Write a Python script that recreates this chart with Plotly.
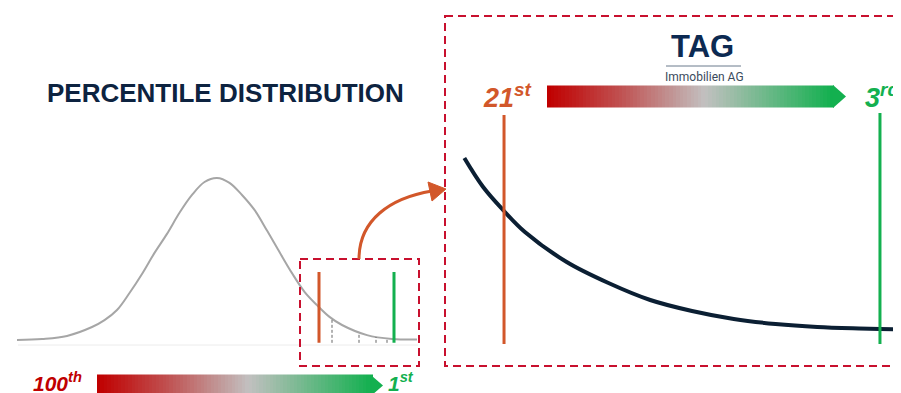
import plotly.graph_objects as go

W, H = 901, 393
OFF = 8  # the page body has an 8px margin; the canvas axis is shifted to make up for it

# bell curve (z-score, density)
BELL_Z = [-4.0, -3.5, -3.0, -2.5, -2.25, -2.0, -1.75, -1.5, -1.25, -1.0, -0.75, -0.5, -0.25, 0.0,
          0.25, 0.5, 0.75, 1.0, 1.25, 1.5, 1.75, 2.0, 2.25, 2.5, 3.0, 3.5, 4.0]
BELL_D = [0.0, 0.0025, 0.01, 0.032, 0.049, 0.074, 0.116, 0.163, 0.215, 0.262, 0.314, 0.358, 0.39, 0.40,
          0.388, 0.358, 0.321, 0.27, 0.217, 0.165, 0.119, 0.086, 0.057, 0.037, 0.012, 0.0025, 0.001]

# percentile markers on the bell curve (21st and 3rd) and the small dashed ticks
MARK_Z = [2.04, 3.54]
TICK_Z = [2.3, 2.84, 3.18, 3.4]
TICK_D = [0.052, 0.017, 0.0074, 0.0025]

# zoomed tail: percentile rank vs height
TAIL_P = [22.9, 22, 21, 20, 18, 16, 14, 12, 10, 8, 6, 4, 3, 2.3]
TAIL_H = [18.2, 15.3, 12.9, 10.8, 7.8, 5.7, 4.0, 2.9, 2.1, 1.6, 1.3, 1.15, 1.1, 1.07]
MARK_P = [21, 3]

RED = "#c00000"
ORANGE = "#d2572a"
GREEN = "#13b04f"
NAVY = "#0d2340"
BOXRED = "#c8102e"
GRAD = [[0, "#c00000"], [0.25, "#c05050"], [0.55, "#c2c0c0"], [1, "#12b04f"]]


def gradient_bar(x0, x1, y0, y1, n=80):
    step = (x1 - x0) / n
    return go.Heatmap(
        x=[x0 + step * (i + 0.5) for i in range(n)],
        y=[y0, y1],
        z=[list(range(n)), list(range(n))],
        colorscale=GRAD,
        showscale=False,
        hoverinfo="skip",
        xaxis="x",
        yaxis="y",
    )


fig = go.Figure()

# gradient arrows (canvas axis)
fig.add_trace(gradient_bar(97, 373, 380, 391))
fig.add_trace(gradient_bar(547, 834, 91, 102))

# bell curve
fig.add_trace(go.Scatter(
    x=BELL_Z, y=BELL_D, mode="lines", line=dict(color="#a6a6a6", width=2, shape="spline"),
    xaxis="x2", yaxis="y2", hoverinfo="skip",
))

# zoomed tail curve
fig.add_trace(go.Scatter(
    x=TAIL_P, y=TAIL_H, mode="lines", line=dict(color="#0b1f33", width=4, shape="spline"),
    xaxis="x3", yaxis="y3", hoverinfo="skip",
))

shapes = []
# faint baseline under the bell
shapes.append(dict(type="line", xref="x", yref="y", x0=18, x1=418, y0=345, y1=345,
                   line=dict(color="#ececec", width=1)))
# dashed ticks under the tail
for z, d in zip(TICK_Z, TICK_D):
    shapes.append(dict(type="line", xref="x2", yref="y2", x0=z, x1=z, y0=-0.007, y1=d,
                       line=dict(color="#666666", width=1, dash="3px,2px")))
# percentile markers on the bell
for z, c in zip(MARK_Z, [ORANGE, GREEN]):
    shapes.append(dict(type="line", xref="x2", yref="y2", x0=z, x1=z, y0=-0.007, y1=0.168,
                       line=dict(color=c, width=3)))
# percentile markers in the zoom
for p, c, top in zip(MARK_P, [ORANGE, GREEN], [22.5, 22.7]):
    shapes.append(dict(type="line", xref="x3", yref="y3", x0=p, x1=p, y0=-0.4, y1=top,
                       line=dict(color=c, width=3)))
# dashed boxes
shapes.append(dict(type="rect", xref="x", yref="y", x0=300, x1=419, y0=259, y1=366,
                   line=dict(color=BOXRED, width=2, dash="8px,5px")))
shapes.append(dict(type="rect", xref="x", yref="y", x0=445, x1=915, y0=16, y1=366,
                   line=dict(color=BOXRED, width=2, dash="8px,5px")))
# curved arrow from the small box to the zoom
shapes.append(dict(type="path", xref="x", yref="y", path="M 359 259 C 359 220, 390 198, 432 191",
                   line=dict(color=ORANGE, width=3)))
shapes.append(dict(type="path", xref="x", yref="y", path="M 446 189 L 428 182 L 432 201 Z",
                   fillcolor=ORANGE, line=dict(color=ORANGE, width=1)))
# arrowheads on the gradient bars
shapes.append(dict(type="path", xref="x", yref="y", path="M 372 376 L 383 385.5 L 372 395 Z",
                   fillcolor=GREEN, line=dict(width=0)))
shapes.append(dict(type="path", xref="x", yref="y", path="M 833 85 L 846 96.5 L 833 108 Z",
                   fillcolor=GREEN, line=dict(width=0)))
# logo rule
shapes.append(dict(type="line", xref="x", yref="y", x0=666, x1=741, y0=66, y1=66,
                   line=dict(color="#6b7b8c", width=1)))

annotations = [
    dict(x=45, y=93, text="<b>PERCENTILE DISTRIBUTION</b>", xanchor="left", yanchor="middle",
         font=dict(family="Liberation Sans, Arial", size=26, color=NAVY)),
    dict(x=31, y=382, text="<b><i>100<sup>th</sup></i></b>", xanchor="left", yanchor="middle",
         font=dict(family="Liberation Sans, Arial", size=21, color=RED)),
    dict(x=386, y=382, text="<b><i>1<sup>st</sup></i></b>", xanchor="left", yanchor="middle",
         font=dict(family="Liberation Sans, Arial", size=21, color=GREEN)),
    dict(x=481, y=96, text="<b><i>21<sup>st</sup></i></b>", xanchor="left", yanchor="middle",
         font=dict(family="Liberation Sans, Arial", size=27, color=ORANGE)),
    dict(x=863, y=96, text="<b><i>3<sup>rd</sup></i></b>", xanchor="left", yanchor="middle",
         font=dict(family="Liberation Sans, Arial", size=27, color=GREEN)),
    dict(x=702, y=46, text="<b>TAG</b>", xanchor="center", yanchor="middle",
         font=dict(family="Liberation Sans, Arial", size=31, color="#0c2a52")),
    dict(x=704, y=77, text="Immobilien AG", xanchor="center", yanchor="middle",
         font=dict(family="Roboto, Liberation Sans", size=12, color="#3a4a5c")),
]
for a in annotations:
    a.update(xref="x", yref="y", showarrow=False)

hidden = dict(visible=False, fixedrange=True)
fig.update_layout(
    width=W, height=H,
    margin=dict(l=0, r=0, t=0, b=0),
    paper_bgcolor="white",
    plot_bgcolor="rgba(0,0,0,0)",
    showlegend=False,
    xaxis=dict(domain=[0, 1], range=[OFF, W + OFF], **hidden),
    yaxis=dict(domain=[0, 1], range=[H + OFF, OFF], **hidden),
    xaxis2=dict(domain=[0, 0.5], range=[-4.18, 4.83], anchor="y2", **hidden),
    yaxis2=dict(domain=[0.1043, 0.6387], range=[-0.0494, 0.469], anchor="x2", **hidden),
    xaxis3=dict(domain=[0.5, 1], range=[23.18, 1.61], anchor="y3", **hidden),
    yaxis3=dict(domain=[0.1043, 0.7659], range=[-2, 24], anchor="x3", **hidden),
    shapes=shapes,
    annotations=annotations,
)

fig.write_html("out.html")
